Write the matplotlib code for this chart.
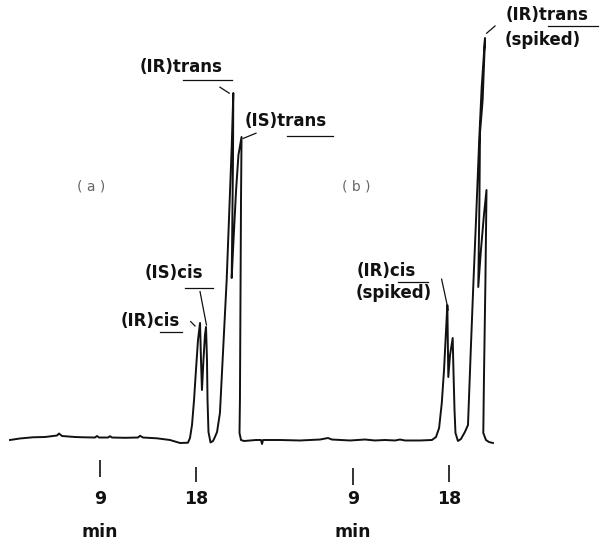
import matplotlib.pyplot as plt

# chromatogram (a): retention time (min) and detector response (% of full scale)
time_a = [0.59, 1.52, 2.74, 3.86, 4.98, 5.17, 5.45, 6.66, 7.41, 8.53, 8.72, 8.91,
          9.75, 9.93, 10.12, 11.34, 12.55, 12.74, 13.02, 14.33, 15.54, 16.48, 17.22,
          17.41, 17.60, 17.79, 17.97, 18.16, 18.35, 18.44, 18.53, 18.67, 18.81, 18.91,
          19.00, 19.05, 19.14, 19.33, 19.56, 19.66, 19.94, 20.21, 20.84,
          21.31, 21.46, 21.43, 21.36, 21.31, 21.48, 21.72, 21.94, 22.23, 22.18,
          22.13, 22.08, 22.04, 22.18, 22.46, 23.02, 23.58]
resp_a = [0.0, 0.38, 0.68, 0.75, 1.12, 1.62, 1.0, 0.75, 0.68, 0.62, 1.0, 0.62,
          0.62, 0.95, 0.62, 0.55, 0.62, 1.05, 0.62, 0.42, 0.0, -0.75, -0.68,
          0.5, 3.75, 10.0, 17.5, 25.0, 29.25, 20.0, 12.5, 20.0, 26.25, 28.25,
          20.0, 10.0, 2.0, -0.62, -0.25, 0.25, 2.0, 6.75, 40.0,
          73.25, 86.75, 70.0, 52.5, 40.5, 50.0, 62.5, 71.25, 75.75, 60.0,
          35.0, 10.0, 1.75, 0.0, -0.25, -0.12, 0.0]

# chromatogram (b), spiked sample
time_b = [0.0, 0.40, 0.50, 0.59, 2.18, 4.05, 5.92, 6.66, 7.03, 8.72, 10.12, 11.06,
          11.99, 12.93, 13.39, 13.86, 15.26, 16.38, 16.76, 17.05, 17.30, 17.51, 17.70,
          17.82, 17.91, 18.07, 18.32, 18.39, 18.49, 18.58, 18.81, 19.09, 19.46, 19.75,
          20.00, 20.24, 20.50, 20.81, 21.03, 21.34, 21.12, 20.87, 20.82, 20.71, 20.96,
          21.24, 21.48, 21.38, 21.24, 21.18, 21.43, 21.71, 22.08]
resp_b = [0.0, 0.0, -1.0, 0.0, 0.0, -0.12, 0.12, 0.5, 0.12, -0.12, 0.12, -0.12,
          0.0, -0.12, 0.12, -0.12, -0.12, 0.0, 0.75, 3.0, 9.25, 17.5, 27.5,
          33.75, 15.75, 21.25, 25.5, 17.5, 7.5, 1.75, -0.25, 0.25, 2.0, 3.75,
          21.75, 38.25, 55.0, 75.75, 88.25, 100.5, 85.0, 76.75, 60.0, 38.25, 47.5,
          56.25, 62.5, 40.0, 15.0, 1.75, 0.0, -0.5, -0.75]

tick_minutes = [9, 18]
b_offset = 23.645  # (b) is drawn to the right of (a) on the same strip

fig = plt.figure(figsize=(6.02, 5.46), dpi=100)
ax = fig.add_axes([0, 0, 1, 1])
ax.set_xlim(-0.346, 55.92)
ax.set_ylim(-26.5, 110)
ax.axis("off")

ink = "#111111"
ax.plot(time_a, resp_a, color=ink, lw=1.4, solid_joinstyle="round")
ax.plot([t + b_offset for t in time_b], resp_b, color=ink, lw=1.4,
        solid_joinstyle="round")

# time axis marks under each trace
tick_spans = [(-5.0, -9.25), (-6.75, -10.5), (-7.0, -11.25), (-6.25, -10.5)]
positions = tick_minutes + [t + b_offset for t in tick_minutes]
for x, (y0, y1), lab in zip(positions, tick_spans, tick_minutes * 2):
    ax.vlines(x, y1, y0, color=ink, lw=1.2)
    ax.text(x, -14.75, str(lab), ha="center", va="center", fontsize=12.5,
            fontweight="bold", color=ink)
for x in (tick_minutes[0], tick_minutes[0] + b_offset):
    ax.text(x, -23.0, "min", ha="center", va="center", fontsize=12.5,
            fontweight="bold", color=ink)

lab_kw = dict(fontsize=12, fontweight="bold", color=ink, ha="left", va="baseline")
line_kw = dict(color=ink, lw=0.9)

def label(x, y, text, ul, lead):
    ax.text(x, y, text, **lab_kw)
    if ul:
        ax.plot(ul[:2], [ul[2], ul[2]], **line_kw)
    ax.plot(lead[:2], lead[2:], **line_kw)

label(12.67, 92.1, "(IR)trans", (16.79, 21.31, 90.0), (20.21, 21.08, 88.2, 86.7))
label(22.55, 78.5, "(IS)trans", (26.45, 30.80, 76.0), (22.39, 23.58, 75.4, 76.7))
label(13.21, 40.4, "(IS)cis", (16.94, 19.59, 38.1), (18.35, 18.95, 37.1, 28.75))
label(10.93, 28.5, "(IR)cis", (14.61, 16.64, 26.9), (17.48, 17.88, 29.6, 28.5))

label(33.02, 40.9, "(IR)cis", (36.88, 39.68, 39.5), (40.93, 41.55, 40.2, 32.5))
ax.text(32.93, 35.4, "(spiked)", **lab_kw)
label(46.94, 105.0, "(IR)trans", (50.90, 55.57, 103.6), (45.14, 45.92, 101.7, 103.5))
ax.text(46.85, 98.75, "(spiked)", **lab_kw)

ax.text(8.16, 63.25, "( a )", ha="center", va="center", fontsize=10, color="#666666")
ax.text(32.93, 63.5, "( b )", ha="center", va="center", fontsize=10, color="#666666")

fig.savefig("out.png", dpi=100)
